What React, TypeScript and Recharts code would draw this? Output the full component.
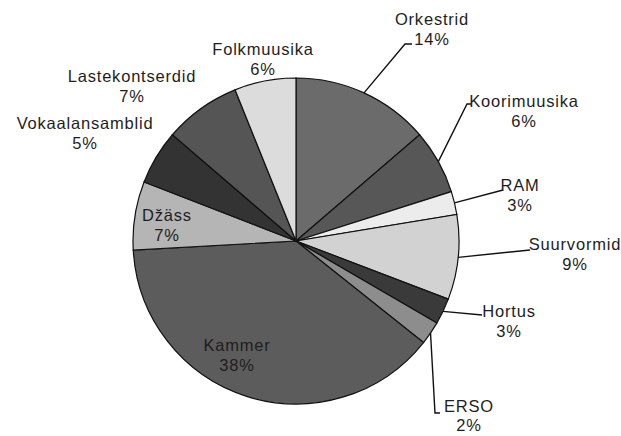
import React from 'react';
import { PieChart, Pie, Cell } from 'recharts';

// slice sizes (the printed % labels are rounded)
const categories = ['Orkestrid', 'Koorimuusika', 'RAM', 'Suurvormid', 'Hortus', 'ERSO', 'Kammer', 'Džäss', 'Vokaalansamblid', 'Lastekontserdid', 'Folkmuusika'];
const shares = [13.7, 6.4, 2.3, 8.4, 2.6, 2.3, 38.4, 6.8, 5.4, 7.6, 6.1];
const percentLabels = ['14%', '6%', '3%', '9%', '3%', '2%', '38%', '7%', '5%', '7%', '6%'];
const colors = ['#6b6b6b', '#575757', '#ececec', '#d2d2d2', '#3a3a3a', '#8d8d8d', '#5c5c5c', '#b5b5b5', '#333333', '#555555', '#dcdcdc'];

const data = categories.map((name, i) => ({ name, value: shares[i], pct: percentLabels[i] }));

// label placement relative to the pie centre: text centre (tx, ty), optional leader elbow and end
type LabelPos = { tx: number; ty: number; elbow?: [number, number]; end?: [number, number] };
const labelPos: Record<string, LabelPos> = {
  Orkestrid: { tx: 136, ty: -222, elbow: [109, -197], end: [116, -197] },
  Koorimuusika: { tx: 228, ty: -140, elbow: [171, -137], end: [175, -137] },
  RAM: { tx: 224, ty: -56, end: [207, -51] },
  Suurvormid: { tx: 279, ty: 3, end: [234, 9] },
  Hortus: { tx: 213, ty: 70, end: [186, 74] },
  ERSO: { tx: 173, ty: 165, elbow: [139, 172], end: [144, 172] },
  Kammer: { tx: -59, ty: 104 },
  'Džäss': { tx: -129, ty: -26 },
  Vokaalansamblid: { tx: -211, ty: -118 },
  Lastekontserdid: { tx: -164, ty: -165 },
  Folkmuusika: { tx: -33, ty: -192 },
};

const RAD = Math.PI / 180;

const renderLabel = (props: any) => {
  const { cx, cy, midAngle, outerRadius, name, payload } = props;
  const pos = labelPos[name];
  if (!pos) return null;
  const sx = cx + outerRadius * Math.cos(-midAngle * RAD);
  const sy = cy + outerRadius * Math.sin(-midAngle * RAD);
  const pts: string[] = [`${sx},${sy}`];
  if (pos.elbow) pts.push(`${cx + pos.elbow[0]},${cy + pos.elbow[1]}`);
  if (pos.end) pts.push(`${cx + pos.end[0]},${cy + pos.end[1]}`);
  return (
    <g>
      {pos.end && <polyline points={pts.join(' ')} fill="none" stroke="#111" strokeWidth={1.4} />}
      <text x={cx + pos.tx} y={cy + pos.ty} textAnchor="middle" dominantBaseline="central"
        fontSize={16.5} letterSpacing={0.8} fill="#1e1e1e" fontFamily="'Liberation Sans', Arial, sans-serif">
        <tspan x={cx + pos.tx} dy={0}>{name}</tspan>
        <tspan x={cx + pos.tx} dy={name === 'ERSO' ? 19 : 20}>{payload.pct}</tspan>
      </text>
    </g>
  );
};

export default function App() {
  return (
    <div style={{ position: 'absolute', left: 0, top: 0, width: 621, height: 436, background: '#fff' }}>
      <PieChart width={621} height={436} margin={{ top: 0, right: 0, bottom: 0, left: 0 }}>
        <Pie
          data={data}
          dataKey="value"
          nameKey="name"
          cx={296}
          cy={241}
          outerRadius={163}
          startAngle={90}
          endAngle={-270}
          stroke="#111"
          strokeWidth={1.2}
          label={renderLabel}
          labelLine={false}
          isAnimationActive={false}
        >
          {data.map((d, i) => (
            <Cell key={d.name} fill={colors[i]} />
          ))}
        </Pie>
      </PieChart>
    </div>
  );
}
